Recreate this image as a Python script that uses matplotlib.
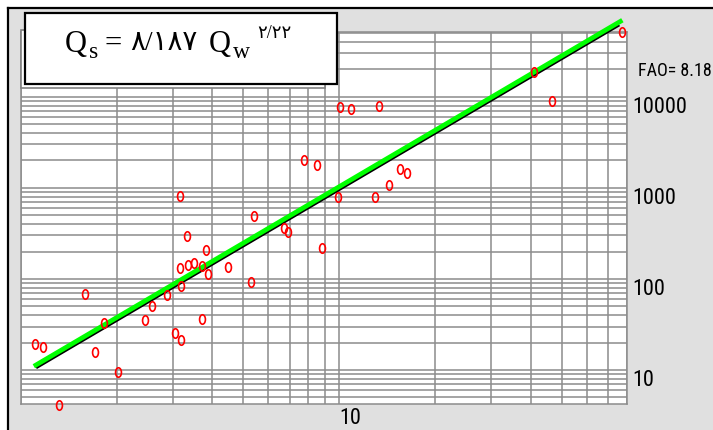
import numpy as np
import matplotlib
matplotlib.use("Agg")
import matplotlib.pyplot as plt
from matplotlib.patches import Rectangle
from matplotlib.lines import Line2D
from matplotlib.path import Path
from matplotlib.transforms import Affine2D
from matplotlib.ticker import LogLocator, NullFormatter, FixedLocator, FixedFormatter
from matplotlib import font_manager

# ---- data ----
water_q = [1.108, 1.172, 1.321, 1.589, 1.716, 1.830, 2.02, 2.458, 2.576, 2.873,
           3.051, 3.197, 3.186, 3.170, 3.357, 3.505, 3.705, 3.888, 3.705, 4.477,
           5.27, 3.162, 3.337, 3.807, 5.397, 6.70, 6.90, 8.805, 7.775, 8.524,
           9.95, 10.09, 10.9, 13.34, 12.96, 14.35, 15.51, 16.39, 40.8, 46.5, 77.3]
sediment_q = [19.3, 18.0, 4.13, 68.3, 15.9, 32.6, 9.63, 35.4, 51.1, 66.6,
              25.5, 21.3, 82.9, 133.4, 143.9, 150.2, 139.6, 112.6, 36.5, 136.1,
              93.1, 807, 299, 207.6, 496.5, 364.8, 329.7, 218.4, 2019, 1771,
              798, 7764, 7295, 7907, 798, 1073, 1608, 1443, 18800, 8930, 50900]

fit_coef, fit_exp = 8.4, 2.055          # black regression line
fit_range = [1.128, 75.2]
fao_coef, fao_exp = 9.05, 2.055         # green FAO line
fao_range = [1.116, 76.4]

x_ticks = [10]
x_tick_labels = ["10"]
y_ticks = [10, 100, 1000, 10000]
y_tick_labels = ["10", "100", "1000", "10000"]
x_limits = (1.0, 80.0)
y_limits = (4.24, 51700)

W, H = 713, 430
def fx(px):
    return px / W
def fy(py):
    return 1 - py / H

# pick a narrow sans font if one is installed
available = {f.name for f in font_manager.fontManager.ttflist}
narrow = [n for n in ["Liberation Sans Narrow", "Arial Narrow", "Roboto Condensed",
                      "DejaVu Sans Condensed", "Open Sans Condensed"] if n in available]
if narrow:
    tick_family = [narrow[0], "DejaVu Sans"]
    tick_size = 16
else:
    tick_family = ["Liberation Sans", "DejaVu Sans"]
    tick_size = 13

fig = plt.figure(figsize=(W / 100, H / 100), dpi=100, facecolor="white")

# window background
fig.patches.append(Rectangle((fx(8), 0), 1 - fx(8), fy(8), transform=fig.transFigure,
                             facecolor="#e0e0e0", edgecolor="none", zorder=-10))
fig.lines.append(Line2D([fx(7.5), fx(7.5)], [0, fy(7.5)], transform=fig.transFigure,
                        color="black", lw=1.6, zorder=-5))
fig.lines.append(Line2D([fx(7.5), 1], [fy(7.5), fy(7.5)], transform=fig.transFigure,
                        color="black", lw=1.6, zorder=-5))

ax = fig.add_axes([fx(20.7), 1 - 404 / H, (626.7 - 20.7) / W, (404 - 31.7) / H])
ax.set_facecolor("white")
ax.set_xscale("log")
ax.set_yscale("log")
ax.set_xlim(*x_limits)
ax.set_ylim(*y_limits)

grid_color = "#8c8c8c"
ax.xaxis.set_major_locator(FixedLocator(x_ticks))
ax.xaxis.set_major_formatter(FixedFormatter(x_tick_labels))
ax.xaxis.set_minor_locator(LogLocator(base=10, subs=np.arange(1, 10), numticks=20))
ax.xaxis.set_minor_formatter(NullFormatter())
ax.yaxis.set_major_locator(FixedLocator(y_ticks))
ax.yaxis.set_major_formatter(FixedFormatter(y_tick_labels))
ax.yaxis.set_minor_locator(LogLocator(base=10, subs=np.arange(1, 10), numticks=20))
ax.yaxis.set_minor_formatter(NullFormatter())
ax.yaxis.tick_right()
ax.tick_params(which="both", length=0)
ax.tick_params(axis="y", pad=4)
ax.tick_params(axis="x", pad=3)
ax.grid(True, which="both", color=grid_color, lw=1.1)
ax.set_axisbelow(True)
for s in ax.spines.values():
    s.set_color(grid_color)
    s.set_linewidth(1.1)

for lab in ax.get_yticklabels() + ax.get_xticklabels():
    lab.set_fontfamily(tick_family)
    lab.set_fontsize(tick_size)
    lab.set_va("top")
    lab.set_ha("left")

# lines
xs = np.geomspace(fit_range[0], fit_range[1], 200)
ax.plot(xs, fit_coef * xs ** fit_exp, color="black", lw=2.0, clip_on=False, zorder=3)
xg = np.geomspace(fao_range[0], fao_range[1], 200)
ax.plot(xg, fao_coef * xg ** fao_exp, color="#00ff00", lw=3.4, clip_on=False, zorder=4)

# scatter points (tall open ellipses)
ell = Path.unit_circle().transformed(Affine2D().scale(0.62, 1.0))
ax.plot(water_q, sediment_q, linestyle="none", marker=ell, markersize=6.8,
        markerfacecolor="none", markeredgecolor="red", markeredgewidth=1.2,
        clip_on=False, zorder=5)

# FAO label
fig.text(fx(638), fy(62), "FAO= 8.18", fontsize=13, family=tick_family,
         ha="left", va="top", color="black")

# equation box
fig.patches.append(Rectangle((fx(20.7), fy(87.5)), (325 - 20.7) / W, (87.5 - 30) / H,
                             transform=fig.transFigure, facecolor="white",
                             edgecolor="#808080", lw=1.2, zorder=6))
fig.lines.append(Line2D([fx(22.5), fx(22.5)], [fy(32), fy(85)], transform=fig.transFigure,
                        color="black", lw=1.2, ls=(0, (3, 2)), zorder=6))
fig.patches.append(Rectangle((fx(25), fy(84)), (337.3 - 25) / W, (84 - 12.7) / H,
                             transform=fig.transFigure, facecolor="white",
                             edgecolor="black", lw=1.6, zorder=7))

serif = ["Liberation Serif", "DejaVu Sans"]
eq_kw = dict(family=serif, ha="left", va="baseline", color="black", zorder=8)
fig.text(fx(65), fy(51.7), "Q", fontsize=22, **eq_kw)
fig.text(fx(88.5), fy(58.5), "s", fontsize=17, **eq_kw)
fig.text(fx(104), fy(51.7), "=", fontsize=22, **eq_kw)
fig.text(fx(130), fy(50.5), "\u0668/\u0661\u0668\u0667", fontsize=20, **eq_kw)
fig.text(fx(209), fy(51.7), "Q", fontsize=22, **eq_kw)
fig.text(fx(233), fy(58.5), "w", fontsize=17, **eq_kw)
fig.text(fx(257), fy(37.5), "\u0662/\u0662\u0662", fontsize=13, **eq_kw)

fig.savefig("out.png", dpi=100, facecolor=fig.get_facecolor())
